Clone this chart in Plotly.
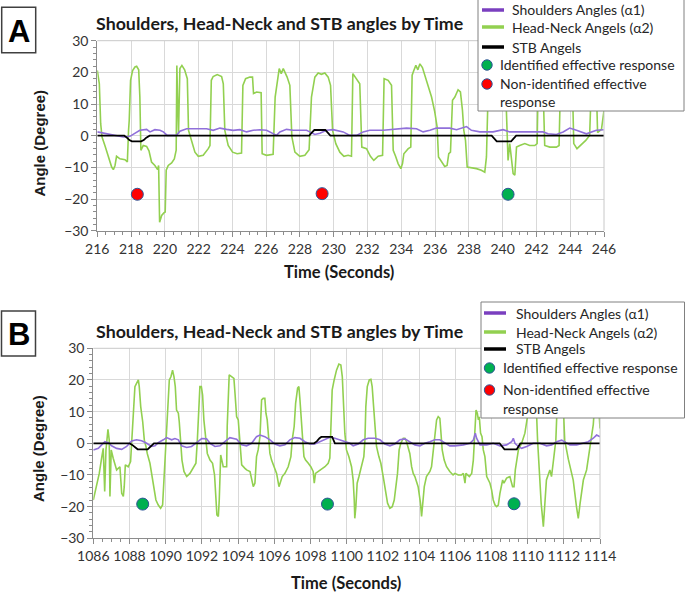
import plotly.graph_objects as go

W, H = 685, 592

# ---------------- Panel A data ----------------
a_head_t = [216.00, 216.12, 216.20, 216.28, 216.45, 216.65, 216.85, 216.95, 217.05, 217.14, 217.34, 217.64, 217.78,
            217.85, 217.89, 217.97, 218.09, 218.23, 218.33, 218.45, 218.52, 218.58, 218.72, 218.92, 219.06, 219.21,
            219.41, 219.57, 219.63, 219.69, 219.81, 219.94, 220.02, 220.08, 220.20, 220.40, 220.56, 220.67, 220.71,
            220.75, 220.81, 220.89, 221.01, 221.17, 221.33, 221.40, 221.58, 221.78, 221.98, 222.27, 222.57, 222.67,
            222.75, 222.86, 223.10, 223.36, 223.46, 223.55, 223.75, 224.01, 224.28, 224.54, 224.62, 224.78, 225.03,
            225.19, 225.25, 225.43, 225.70, 225.76, 226.02, 226.41, 226.53, 226.65, 226.77, 226.89, 227.01, 227.24,
            227.40, 227.52, 227.70, 227.99, 228.29, 228.54, 228.68, 228.88, 229.08, 229.27, 229.47, 229.67, 229.81,
            229.93, 230.12, 230.36, 230.60, 230.85, 231.05, 231.13, 231.31, 231.54, 231.66, 231.94, 232.17, 232.37,
            232.63, 232.89, 232.98, 233.22, 233.42, 233.52, 233.66, 233.81, 233.97, 234.07, 234.15, 234.41, 234.56,
            234.64, 234.74, 234.86, 234.98, 235.10, 235.25, 235.39, 235.59, 235.79, 235.98, 236.12, 236.20, 236.38,
            236.57, 236.71, 236.81, 236.91, 237.03, 237.17, 237.36, 237.50, 237.62, 237.70, 237.80, 237.90, 238.15,
            238.45, 238.74, 238.94, 239.04, 239.15, 239.50, 240.10, 240.22, 240.32, 240.42, 240.52, 240.62, 240.72,
            240.82, 241.01, 241.31, 241.60, 241.90, 242.04, 242.10, 242.39, 242.49, 242.79, 243.18, 243.34, 243.42,
            244.13, 244.21, 244.40, 244.60, 244.92, 245.15, 245.25, 245.55, 245.62, 245.85, 246.00]
a_head_v = [20.6, 16.4, 3.8, -0.4, -3.1, -6.5, -9.9, -10.7, -9.4, -6.5, -7.3, -7.6, -8.3,
            1.7, 4.8, 17.5, 20.6, 21.7, 21.9, 20.8, 12.2, -4.6, -3.1, -3.4, -4.8, -8.3,
            -9.4, -10.7, -9.4, -27.3, -25.2, -24.4, -24.1, -10.9, -9.4, -8.6, -7.3, -4.6, 22.2,
            12.2, 0.6, 21.2, 22.2, 20.8, 18.0, 1.7, -1.5, -5.2, -6.5, -6.2, -4.1, -3.1,
            17.5, 18.7, 19.3, 18.7, 16.4, 1.7, -3.1, -5.2, -5.7, -5.5, 15.9, 18.0, 18.5,
            18.5, 13.3, 13.8, 13.6, -5.7, -6.2, -5.9, 12.2, 17.5, 21.2, 19.6, 21.2, 18.5,
            15.9, -0.4, -5.2, -6.5, -6.2, -4.4, 12.2, 18.5, 19.8, 19.4, 19.8, 18.5, 15.9,
            1.7, -2.5, -5.2, -6.5, -6.2, -6.5, 19.6, 18.0, 16.4, -3.6, -4.1, -6.5, -7.8,
            -6.5, -6.2, 18.0, 17.5, 15.9, -4.6, -6.5, -8.8, -10.4, -8.8, -5.7, -4.1, -3.6,
            19.1, 20.6, 22.2, 20.8, 22.7, 21.5, 19.1, 16.4, 12.2, 7.5, 2.7, -6.7, -8.3,
            -9.7, -9.4, -5.7, -5.2, 11.2, 12.2, 14.5, 13.8, 8.0, 1.7, -1.5, -9.9, -10.1,
            -10.4, -10.9, -11.5, -6.7, 16.0, 18.0, 17.0, 8.0, -7.8, -2.5, -6.7, -12.0, -12.5,
            -3.6, -3.1, -2.5, -3.1, -3.1, -2.5, 16.0, 16.0, -3.1, -3.6, -3.6, -3.1, 16.0,
            16.0, -2.5, -4.1, -3.1, -1.5, 0.1, 16.0, 15.0, 1.0, 2.0, 8.0]

a_sh_t = [216.0, 216.55, 216.95, 217.54, 217.93, 218.23, 218.52, 218.92, 219.12, 219.41, 219.71, 219.91, 220.14,
          220.69, 220.89, 221.29, 221.88, 222.47, 222.86, 223.26, 223.65, 224.05, 224.44, 224.84, 225.23, 225.63,
          226.02, 226.41, 226.61, 226.81, 227.20, 227.60, 228.39, 228.58, 228.88, 229.18, 229.57, 229.96, 230.56,
          230.95, 231.35, 231.74, 232.13, 232.93, 233.71, 234.31, 234.90, 235.29, 235.69, 236.08, 236.87, 237.27,
          237.86, 238.15, 238.65, 239.43, 240.03, 240.42, 241.21, 242.39, 242.69, 243.18, 243.58, 243.97, 244.37,
          244.96, 245.55, 245.98]
a_sh_v = [1.2, 0.6, 0.1, -0.4, -0.2, 0.8, 1.7, 2.0, 1.2, 1.9, 1.7, 1.2, 0.1,
          0.1, 1.4, 2.2, 2.1, 2.2, 1.7, 2.4, 2.0, 1.7, 1.9, 1.2, 1.7, 1.9,
          1.7, 0.6, 0.1, 1.2, 2.0, 1.7, 1.7, 1.2, 0.4, 0.8, 1.7, 1.9, 1.2,
          0.1, 0.1, 1.2, 1.7, 1.7, 2.2, 2.4, 2.2, 1.2, 1.7, 2.4, 2.4, 1.9,
          2.9, 1.7, 1.2, 1.2, 1.9, 1.2, 1.2, 1.2, 0.6, 0.4, 1.2, 2.4, 1.7,
          0.6, 1.7, 1.9]

a_stb_t = [216.0, 217.6, 217.75, 217.9, 218.05, 218.6, 218.75, 218.9, 219.1, 228.55, 228.7, 228.85, 229.5, 229.65,
           229.8, 239.35, 239.5, 239.65, 240.5, 240.65, 240.8, 246.0]
a_stb_v = [0, 0, -0.6, -1.4, -1.8, -1.8, -1.4, -0.6, 0, 0, 1.0, 1.8, 1.8, 1.0,
           0, 0, -0.9, -1.8, -1.8, -0.9, 0, 0]

a_ident_t = [240.32]
a_ident_v = [-18.5]
a_nonid_t = [218.37, 229.31]
a_nonid_v = [-18.5, -18.3]

# ---------------- Panel B data ----------------
b_head_t = [1086.00, 1086.18, 1086.33, 1086.46, 1086.55, 1086.63, 1086.70, 1086.81, 1086.88, 1086.92, 1086.99,
            1087.10, 1087.29, 1087.47, 1087.57, 1087.66, 1087.71, 1087.77, 1087.93, 1088.06, 1088.12, 1088.21,
            1088.30, 1088.39, 1088.49, 1088.54, 1088.62, 1088.73, 1088.82, 1088.91, 1088.98, 1089.13, 1089.22,
            1089.35, 1089.46, 1089.59, 1089.72, 1089.83, 1089.90, 1090.01, 1090.11, 1090.20, 1090.29, 1090.38,
            1090.46, 1090.53, 1090.60, 1090.70, 1090.75, 1090.83, 1090.90, 1091.01, 1091.16, 1091.34, 1091.52,
            1091.67, 1091.75, 1091.82, 1091.89, 1091.97, 1092.04, 1092.11, 1092.21, 1092.30, 1092.45, 1092.59,
            1092.70, 1092.78, 1092.83, 1092.91, 1092.96, 1093.04, 1093.18, 1093.37, 1093.40, 1093.51, 1093.64,
            1093.77, 1093.83, 1093.92, 1094.01, 1094.10, 1094.20, 1094.38, 1094.47, 1094.66, 1094.75, 1094.84,
            1094.93, 1095.02, 1095.11, 1095.21, 1095.30, 1095.39, 1095.48, 1095.54, 1095.61, 1095.67, 1095.76,
            1095.85, 1095.94, 1096.03, 1096.13, 1096.26, 1096.33, 1096.44, 1096.59, 1096.77, 1096.92, 1096.99,
            1097.10, 1097.18, 1097.29, 1097.36, 1097.42, 1097.47, 1097.56, 1097.64, 1097.73, 1097.88, 1098.02,
            1098.15, 1098.21, 1098.28, 1098.43, 1098.61, 1098.80, 1098.98, 1099.07, 1099.17, 1099.20, 1099.31,
            1099.44, 1099.57, 1099.68, 1099.76, 1099.83, 1099.90, 1099.99, 1100.12, 1100.27, 1100.36, 1100.42,
            1100.45, 1100.51, 1100.58, 1100.68, 1100.82, 1100.95, 1101.01, 1101.06, 1101.14, 1101.25, 1101.34,
            1101.41, 1101.49, 1101.56, 1101.65, 1101.78, 1101.89, 1102.02, 1102.15, 1102.26, 1102.39, 1102.52,
            1102.63, 1102.70, 1102.81, 1102.90, 1102.99, 1103.13, 1103.22, 1103.31, 1103.49, 1103.59, 1103.68,
            1103.77, 1103.95, 1104.08, 1104.14, 1104.19, 1104.29, 1104.41, 1104.51, 1104.60, 1104.69, 1104.78,
            1104.87, 1104.97, 1105.06, 1105.15, 1105.20, 1105.28, 1105.39, 1105.52, 1105.70, 1105.88, 1105.98,
            1106.17, 1106.35, 1106.45, 1106.54, 1106.59, 1106.78, 1106.91, 1107.00, 1107.09, 1107.15, 1107.22,
            1107.28, 1107.33, 1107.40, 1107.48, 1107.55, 1107.64, 1107.74, 1107.92, 1108.01, 1108.10, 1108.20,
            1108.29, 1108.38, 1108.47, 1108.62, 1108.69, 1108.84, 1109.02, 1109.17, 1109.25, 1109.32, 1109.49,
            1109.67, 1109.85, 1110.09, 1110.30, 1110.45, 1110.55, 1110.75, 1110.87, 1110.95, 1111.04, 1111.23,
            1111.32, 1111.41, 1111.56, 1111.62, 1111.75, 1111.95, 1112.05, 1112.25, 1112.52, 1112.70, 1112.80,
            1112.90, 1113.08, 1113.26, 1113.45, 1113.54, 1113.63, 1113.70, 1113.80, 1113.90, 1114.00]
b_head_v = [-17.9, -13.7, -9.5, -4.7, -1.6, -15.2, -2.1, 4.4, 1.1, -16.8, -2.1,
            -4.7, -8.4, -7.4, -15.8, -16.8, -13.7, -6.8, -7.4, -5.8, 0.0, 8.4,
            17.9, 18.9, 20.0, 17.9, 11.6, 6.8, 1.0, -1.0, -3.2, -6.3, -9.5,
            -14.7, -17.9, -19.5, -20.5, -19.5, -12.6, 0.0, 11.6, 20.0, 21.0, 23.1,
            21.0, 17.9, 10.5, 9.5, 6.8, 1.0, -5.3, -8.9, -10.5, -9.5, -7.9,
            -6.3, 1.0, 8.4, 17.9, 17.9, 15.2, 7.4, 2.1, -3.2, -5.3, -6.3,
            -10.0, -16.8, -22.6, -23.1, -17.9, -3.7, -7.4, -7.4, 5.3, 21.6, 21.0,
            20.5, 15.8, 8.4, 7.4, 1.0, -6.8, -7.9, -8.4, -8.9, -11.6, -13.7,
            -12.6, -4.2, -2.1, 2.1, 13.7, 14.2, 14.2, 9.5, 7.4, 2.1, -3.2,
            -5.3, -6.8, -8.4, -9.5, -13.7, -12.6, -10.5, -9.5, -7.4, -4.2, 1.0,
            5.3, 12.6, 17.4, 17.9, 13.7, 8.4, 2.1, -4.2, -5.3, -6.3, -7.4,
            -8.9, -12.6, -9.5, -8.9, -8.4, -7.4, -6.3, -4.7, 11.6, 16.8, 20.0,
            23.1, 25.0, 24.7, 21.0, 11.6, 3.2, -2.1, -4.2, -7.4, -11.6, -17.9,
            -23.7, -20.0, -12.6, -10.5, -7.4, -4.2, 1.0, 11.6, 17.9, 20.0, 20.2,
            17.9, 11.6, 4.2, -1.0, -4.2, -6.3, -10.5, -15.8, -18.9, -20.5, -20.0,
            -17.9, -14.7, -9.5, -2.1, 0.0, 1.6, 1.6, 0.5, -3.2, -7.4, -9.5,
            -10.5, -13.7, -18.9, -23.1, -20.0, -13.7, -10.5, -9.5, -8.9, -7.4, -3.2,
            1.0, 7.4, 8.4, 7.9, 4.2, -2.1, -5.3, -7.4, -8.9, -10.0, -9.5,
            -10.0, -10.0, -9.5, -12.6, -9.5, -10.5, -9.5, -5.3, 4.2, 10.5, 9.5,
            7.4, 8.4, 3.2, 2.1, -2.1, -4.2, -10.5, -12.6, -14.7, -17.9, -19.5,
            -20.0, -19.5, -15.8, -11.6, -12.6, -11.0, -10.5, -13.7, -13.7, -8.4, -2.1,
            0.0, 3.2, 12.0, 18.0, 16.0, 1.0, -19.0, -26.3, -19.0, -11.6, -8.4,
            -10.5, -6.3, 1.0, 10.0, 18.0, 15.0, 1.0, -5.0, -11.6, -20.0, -23.7,
            -19.0, -11.6, -8.4, -1.0, 1.0, 6.0, 12.0, 18.0, 15.0, 4.7]

b_sh_t = [1086.00, 1086.28, 1086.46, 1086.64, 1086.83, 1087.01, 1087.29, 1087.57, 1087.84, 1088.12, 1088.39,
          1088.67, 1088.95, 1089.22, 1089.41, 1089.59, 1089.87, 1090.05, 1090.33, 1090.51, 1090.70, 1090.88,
          1091.16, 1091.43, 1091.71, 1091.99, 1092.26, 1092.45, 1092.72, 1093.00, 1093.27, 1093.55, 1093.92,
          1094.20, 1094.47, 1094.75, 1095.02, 1095.21, 1095.48, 1095.76, 1096.03, 1096.31, 1096.59, 1096.86,
          1097.14, 1097.42, 1097.69, 1097.97, 1098.24, 1098.52, 1098.80, 1099.07, 1099.35, 1099.63, 1099.90,
          1100.18, 1100.36, 1100.64, 1100.92, 1101.19, 1101.56, 1101.84, 1102.11, 1102.39, 1102.66, 1102.94,
          1103.22, 1103.49, 1103.77, 1104.05, 1104.32, 1104.60, 1104.87, 1105.15, 1105.43, 1105.70, 1105.98,
          1106.45, 1106.81, 1107.00, 1107.11, 1107.18, 1107.37, 1107.74, 1108.10, 1108.47, 1108.84, 1109.12,
          1109.21, 1109.30, 1109.49, 1109.67, 1109.95, 1110.31, 1110.68, 1111.05, 1111.33, 1111.60, 1111.88,
          1112.06, 1112.34, 1112.71, 1113.08, 1113.35, 1113.63, 1113.81, 1114.00]
b_sh_v = [-2.1, -1.6, -0.5, 0.5, 0.2, -0.8, -1.6, -1.9, -1.0, 0.7, 1.1,
          0.8, 0.0, -1.0, -0.8, 0.2, 1.1, 1.8, 1.1, 1.5, 1.1, -0.8,
          -1.3, -1.0, 0.2, 1.5, 1.4, 0.0, -1.0, -0.8, 0.5, 1.8, 1.3,
          -0.5, -0.8, 0.0, 2.1, 2.6, 2.1, 1.1, -0.2, -0.8, -0.5, 1.1,
          1.8, 1.6, 0.5, -0.2, -0.2, 0.5, 1.1, 1.9, 1.6, 1.1, 0.5,
          0.0, -0.8, -0.2, 1.1, 1.6, 1.6, 1.1, -0.2, -0.8, -0.2, 1.1,
          1.4, 0.5, -0.5, -0.8, 0.0, 0.5, 1.1, 1.1, 0.0, -0.8, -0.8,
          -0.5, 0.0, 1.0, 3.2, 1.6, -0.5, -0.5, 0.0, -0.8, -0.5, 0.5,
          1.6, 0.0, -1.0, -1.6, -1.0, 0.0, 0.0, -0.8, -0.5, 0.5, 1.0,
          0.5, -0.5, -0.5, 0.0, 0.5, 1.6, 2.6, 2.1]

b_stb_t = [1086.0, 1088.0, 1088.15, 1088.3, 1088.45, 1089.0, 1089.12, 1089.25, 1089.35, 1098.2, 1098.35, 1098.5,
           1098.6, 1099.2, 1099.28, 1099.35, 1108.45, 1108.58, 1108.72, 1109.4, 1109.5, 1109.6, 1114.0]
b_stb_v = [0, 0, -0.5, -1.3, -1.9, -1.9, -1.3, -0.5, 0, 0, 0.6, 1.6,
           2.0, 2.0, 1.0, 0, 0, -0.9, -1.9, -1.9, -0.9, 0, 0]

b_ident_t = [1088.73, 1098.94, 1109.25]
b_ident_v = [-19.2, -19.2, -19.1]

# ---------------- text ----------------
title_text = "Shoulders, Head-Neck and STB angles by Time"
x_title = "Time (Seconds)"
y_title = "Angle (Degree)"
legend_labels = ["Shoulders Angles (\u03b11)", "Head-Neck Angels (\u03b12)", "STB Angels",
                 "Identified effective response", "Non-identified effective", "response"]

# ---------------- styles ----------------
GREEN = "#92D050"
PURPLE = "#9070DA"
PURPLE_LEG = "#7A3FBF"
BLACK = "#000000"
RED = "#FF0000"
DOTGREEN = "#00B050"
DOTEDGE = "#2F5597"
GRID = "#D9D9D9"
AXIS = "#8C8C8C"
FONT = "Lato"


def px(x):
    return x / W


def py(y):
    return 1 - y / H


fig = go.Figure()


def add_panel(xa, ya, head_t, head_v, sh_t, sh_v, stb_t, stb_v, dots):
    fig.add_trace(go.Scatter(x=head_t, y=head_v, mode="lines", line=dict(color=GREEN, width=1.6),
                             xaxis=xa, yaxis=ya, showlegend=False, hoverinfo="skip"))
    fig.add_trace(go.Scatter(x=sh_t, y=sh_v, mode="lines", line=dict(color=PURPLE, width=1.6),
                             xaxis=xa, yaxis=ya, showlegend=False, hoverinfo="skip"))
    fig.add_trace(go.Scatter(x=stb_t, y=stb_v, mode="lines", line=dict(color=BLACK, width=1.8),
                             xaxis=xa, yaxis=ya, showlegend=False, hoverinfo="skip"))
    for (tt, vv, col) in dots:
        fig.add_trace(go.Scatter(x=tt, y=vv, mode="markers",
                                 marker=dict(color=col, size=12, line=dict(color=DOTEDGE, width=1)),
                                 xaxis=xa, yaxis=ya, showlegend=False, hoverinfo="skip"))


add_panel("x", "y", a_head_t, a_head_v, a_sh_t, a_sh_v, a_stb_t, a_stb_v,
          [(a_nonid_t, a_nonid_v, RED), (a_ident_t, a_ident_v, DOTGREEN)])
add_panel("x2", "y2", b_head_t, b_head_v, b_sh_t, b_sh_v, b_stb_t, b_stb_v,
          [(b_ident_t, b_ident_v, DOTGREEN)])

tickfont = dict(family=FONT, size=14, color="#333333")


def xaxis(domain, rng, anchor):
    return dict(domain=domain, range=rng, anchor=anchor, dtick=2, tick0=rng[0],
                showgrid=True, gridcolor=GRID, gridwidth=1, zeroline=False,
                showline=True, linecolor=AXIS, linewidth=1,
                ticks="outside", ticklen=5, tickcolor=AXIS, tickfont=tickfont,
                minor=dict(dtick=0.5, ticks="outside", ticklen=3, tickcolor=AXIS, showgrid=False),
                fixedrange=True)


def yaxis(domain, anchor):
    return dict(domain=domain, range=[-30, 30], anchor=anchor, dtick=10,
                showgrid=True, gridcolor=GRID, gridwidth=1, zeroline=False,
                showline=True, linecolor=AXIS, linewidth=1,
                ticks="outside", ticklen=5, tickcolor=AXIS, tickfont=tickfont,
                minor=dict(dtick=2, ticks="outside", ticklen=3, tickcolor=AXIS, showgrid=False),
                fixedrange=True)


# plot-area geometry (pixels)
A_L, A_R, A_T, A_B = 97.3, 604, 40.7, 230.7
B_L, B_R, B_T, B_B = 93.3, 600, 348.3, 538.3

shapes = []
annotations = []

# frame top/right lines (light)
for (L, R, T, B) in [(A_L, A_R, A_T, A_B), (B_L, B_R, B_T, B_B)]:
    shapes.append(dict(type="line", xref="paper", yref="paper", x0=px(L), x1=px(R), y0=py(T), y1=py(T),
                       line=dict(color="#C8C8C8", width=1)))
    shapes.append(dict(type="line", xref="paper", yref="paper", x0=px(R), x1=px(R), y0=py(T), y1=py(B),
                       line=dict(color="#C8C8C8", width=1)))

# panel letters
for (letter, x0, x1, y0, y1) in [("A", 1.7, 35.7, 7.3, 52.7), ("B", 1.5, 35.5, 311, 356)]:
    shapes.append(dict(type="rect", xref="paper", yref="paper", x0=px(x0), x1=px(x1), y0=py(y1), y1=py(y0),
                       line=dict(color="#404040", width=1.5), fillcolor="white"))
    annotations.append(dict(text="<b>%s</b>" % letter, xref="paper", yref="paper", x=px((x0 + x1) / 2),
                            y=py((y0 + y1) / 2 + 1), showarrow=False, xanchor="center", yanchor="middle",
                            font=dict(family="Liberation Sans", size=31, color="#000000")))

# titles & axis titles
for (ty, xty, xtx, yty, ytx) in [(23, 272, 339, 143, 38.6), (331, 583, 346, 449, 38)]:
    annotations.append(dict(text="<b>%s</b>" % title_text, xref="paper", yref="paper", x=px(94), y=py(ty),
                            showarrow=False, xanchor="left", yanchor="middle",
                            font=dict(family=FONT, size=17.8, color="#1A1A1A")))
    annotations.append(dict(text="<b>%s</b>" % x_title, xref="paper", yref="paper", x=px(xtx), y=py(xty),
                            showarrow=False, xanchor="center", yanchor="middle",
                            font=dict(family=FONT, size=16.5, color="#1A1A1A")))
    annotations.append(dict(text="<b>%s</b>" % y_title, xref="paper", yref="paper", x=px(ytx), y=py(yty),
                            showarrow=False, xanchor="center", yanchor="middle", textangle=-90,
                            font=dict(family="Liberation Sans", size=15, color="#1A1A1A")))


# legends (built by hand)
def legend(x0, x1, y0, y1, rows, line_x, line_text_x, mark_x, mark_text_x):
    shapes.append(dict(type="rect", xref="paper", yref="paper", x0=px(x0), x1=px(x1), y0=py(y1), y1=py(y0),
                       line=dict(color="#808080", width=1), fillcolor="white", layer="above"))
    cols = [PURPLE_LEG, GREEN, BLACK]
    for i in range(3):
        shapes.append(dict(type="line", xref="paper", yref="paper", x0=px(line_x[0]), x1=px(line_x[1]),
                           y0=py(rows[i]), y1=py(rows[i]), line=dict(color=cols[i], width=3.5), layer="above"))
        annotations.append(dict(text=legend_labels[i], xref="paper", yref="paper", x=px(line_text_x),
                                y=py(rows[i]), showarrow=False, xanchor="left", yanchor="middle",
                                font=dict(family=FONT, size=14, color="#262626")))
    for j, col in [(3, DOTGREEN), (4, RED)]:
        r = 5.2
        shapes.append(dict(type="circle", xref="paper", yref="paper", x0=px(mark_x - r), x1=px(mark_x + r),
                           y0=py(rows[j] + r + 1), y1=py(rows[j] - r + 1), fillcolor=col,
                           line=dict(color=DOTEDGE, width=1), layer="above"))
    for j in (3, 4, 5):
        annotations.append(dict(text=legend_labels[j], xref="paper", yref="paper", x=px(mark_text_x),
                                y=py(rows[j]), showarrow=False, xanchor="left", yanchor="middle",
                                font=dict(family=FONT, size=14, color="#262626")))


legend(478, 684, -1, 111, [10, 27, 47, 64, 83, 102], (482, 504), 510, 487, 497.5)
legend(481, 684.5, 302, 418, [313, 332, 349, 367, 389, 408], (484, 506), 513.5, 489.5, 500.5)

fig.update_layout(
    width=W, height=H, autosize=False,
    margin=dict(l=0, r=0, t=0, b=0, autoexpand=False),
    paper_bgcolor="white", plot_bgcolor="white",
    showlegend=False,
    xaxis=xaxis([px(A_L), px(A_R)], [216, 246], "y"),
    yaxis=yaxis([py(A_B), py(A_T)], "x"),
    xaxis2=xaxis([px(B_L), px(B_R)], [1086, 1114], "y2"),
    yaxis2=yaxis([py(B_B), py(B_T)], "x2"),
    shapes=shapes,
    annotations=annotations,
)

fig.write_html("out.html", config={"displayModeBar": False},
               post_script="document.body.style.margin='0';document.body.style.padding='0';")
